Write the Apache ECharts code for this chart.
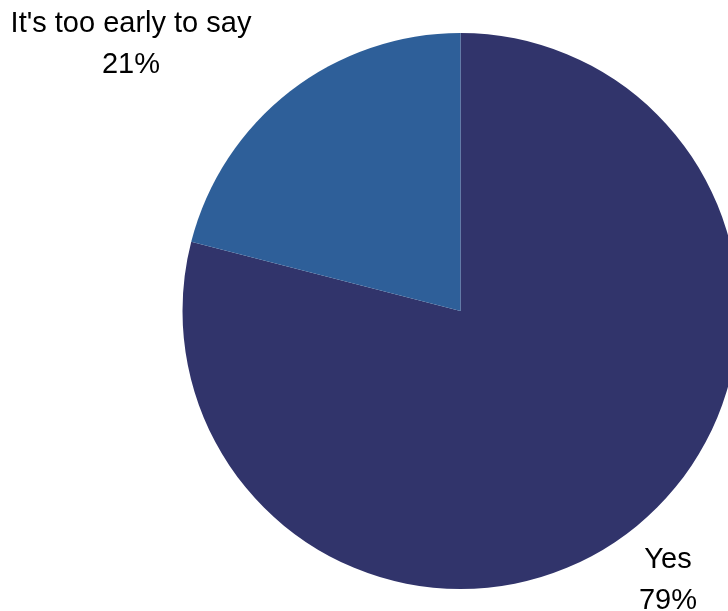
<!DOCTYPE html>
<html>
<head>
<meta charset="utf-8">
<script src="https://cdn.jsdelivr.net/npm/echarts@6/dist/echarts.min.js"></script>
<style>
html,body{margin:0;padding:0;background:#fff;}
#chart{width:728px;height:611px;}
</style>
</head>
<body>
<div id="chart"></div>
<script>
const categories = ["Yes", "It's too early to say"];
const values = [79, 21];
const colors = ['#31346b', '#2e5f99'];

const chart = echarts.init(document.getElementById('chart'), null, {renderer: 'canvas'});
const labelPos = [[668, 580], [131, 44]];
chart.setOption({
  animation: false,
  backgroundColor: '#ffffff',
  series: [{
    type: 'pie',
    center: [460.5, 311],
    radius: [0, 278],
    startAngle: 90,
    clockwise: true,
    avoidLabelOverlap: false,
    data: categories.map((c, i) => ({name: c, value: values[i], itemStyle: {color: colors[i], borderWidth: 0}})),
    label: {
      show: true,
      position: 'outside',
      formatter: '{b}\n{c}%',
      fontFamily: 'Liberation Sans, Arial, sans-serif',
      fontSize: 29,
      lineHeight: 41,
      color: '#000',
      align: 'center',
      overflow: 'none',
      width: 400,
      edgeDistance: 0,
      bleedMargin: 0
    },
    labelLine: {show: false},
    labelLayout: function (p) {
      return {x: labelPos[p.dataIndex][0], y: labelPos[p.dataIndex][1], align: 'center', verticalAlign: 'middle'};
    },
    emphasis: {disabled: true}
  }]
});
</script>
</body>
</html>
